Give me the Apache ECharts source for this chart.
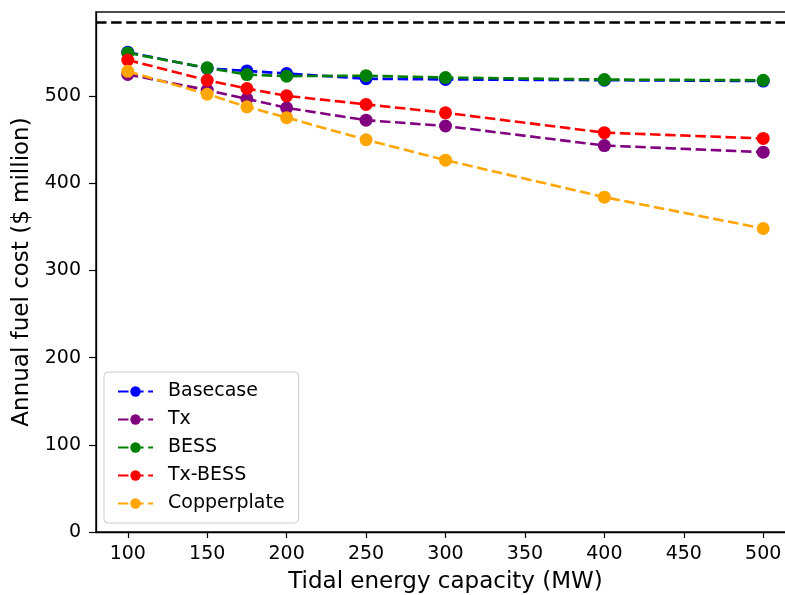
<!DOCTYPE html>
<html>
<head>
<meta charset="utf-8">
<script src="https://cdn.jsdelivr.net/npm/echarts@6/dist/echarts.min.js"></script>
<style>html,body{margin:0;padding:0;background:#fff}#c{width:785px;height:595px}</style>
</head>
<body>
<div id="c"></div>
<script>
const capacities = [100, 150, 175, 200, 250, 300, 400, 500];
const basecase = [550.5, 532, 529, 526, 520, 519.2, 518.4, 517.4];
const tx = [525, 507, 497, 486.6, 472.5, 465.8, 443.4, 435.8];
const bess = [549.7, 532.5, 524.8, 523, 523.5, 521.4, 519.1, 518.3];
const txBess = [541.5, 518.3, 508.8, 500.4, 490.6, 480.9, 458.2, 451.5];
const copperplate = [528.5, 502.3, 487.8, 475.4, 450, 426.6, 384.2, 348.2];
const referenceCost = 585;
const xTicks = [100, 150, 200, 250, 300, 350, 400, 450, 500];
const yTicks = [0, 100, 200, 300, 400, 500];
const seriesNames = ['Basecase', 'Tx', 'BESS', 'Tx-BESS', 'Copperplate'];
const seriesColors = ['#0000ff', '#800080', '#008000', '#ff0000', '#ffa500'];
const seriesValues = [basecase, tx, bess, txBess, copperplate];

const FONT = 'DejaVu Sans';
const dash = [10.5, 4.6];

const series = seriesNames.map((name, i) => ({
  name: name,
  type: 'line',
  data: capacities.map((c, j) => [c, seriesValues[i][j]]),
  symbol: 'circle',
  symbolSize: 13,
  color: seriesColors[i],
  itemStyle: { color: seriesColors[i] },
  lineStyle: { color: seriesColors[i], width: 2.6, type: dash },
  z: 3 + i,
  animation: false
}));
series[0].markLine = {
  silent: true,
  symbol: 'none',
  label: { show: false },
  lineStyle: { color: '#000', width: 2.6, type: dash },
  data: [{ yAxis: referenceCost }],
  animation: false
};

const chart = echarts.init(document.getElementById('c'), null, { renderer: 'canvas' });
chart.setOption({
  animation: false,
  backgroundColor: '#fff',
  grid: { left: 96, top: 12, width: 699, height: 520, show: true, borderColor: '#111', borderWidth: 1.5, backgroundColor: 'transparent', outerBoundsMode: 'none', containLabel: false },
  xAxis: {
    type: 'value', min: 80, max: 520,
    name: 'Tidal energy capacity (MW)', nameLocation: 'middle', nameGap: 39,
    nameTextStyle: { fontFamily: FONT, fontSize: 23, color: '#000' },
    axisLine: { show: true, lineStyle: { color: '#000', width: 1.3 } },
    axisTick: { show: true, length: 6, inside: false, customValues: xTicks, lineStyle: { color: '#000', width: 1.2 } },
    axisLabel: { fontFamily: FONT, fontSize: 19, color: '#000', margin: 13, customValues: xTicks },
    splitLine: { show: false }
  },
  yAxis: {
    type: 'value', min: 0, max: 596.6,
    name: 'Annual fuel cost ($ million)', nameLocation: 'middle', nameGap: 54, nameRotate: 90,
    nameTextStyle: { fontFamily: FONT, fontSize: 23, color: '#000' },
    axisLine: { show: true, lineStyle: { color: '#000', width: 1.3 } },
    axisTick: { show: true, length: 7, customValues: yTicks, lineStyle: { color: '#000', width: 1.2 } },
    axisLabel: { fontFamily: FONT, fontSize: 19, color: '#000', margin: 15, customValues: yTicks },
    splitLine: { show: false }
  },
  legend: {
    data: seriesNames,
    orient: 'vertical',
    left: 104, top: 372,
    padding: [10, 14, 10, 13],
    itemWidth: 35, itemHeight: 13, itemGap: 9,
    backgroundColor: '#fff',
    borderColor: '#cccccc', borderWidth: 1, borderRadius: 4,
    textStyle: { fontFamily: FONT, fontSize: 19, color: '#000', padding: [0, 0, 0, 10] }
  },
  series: series
});
</script>
</body>
</html>
